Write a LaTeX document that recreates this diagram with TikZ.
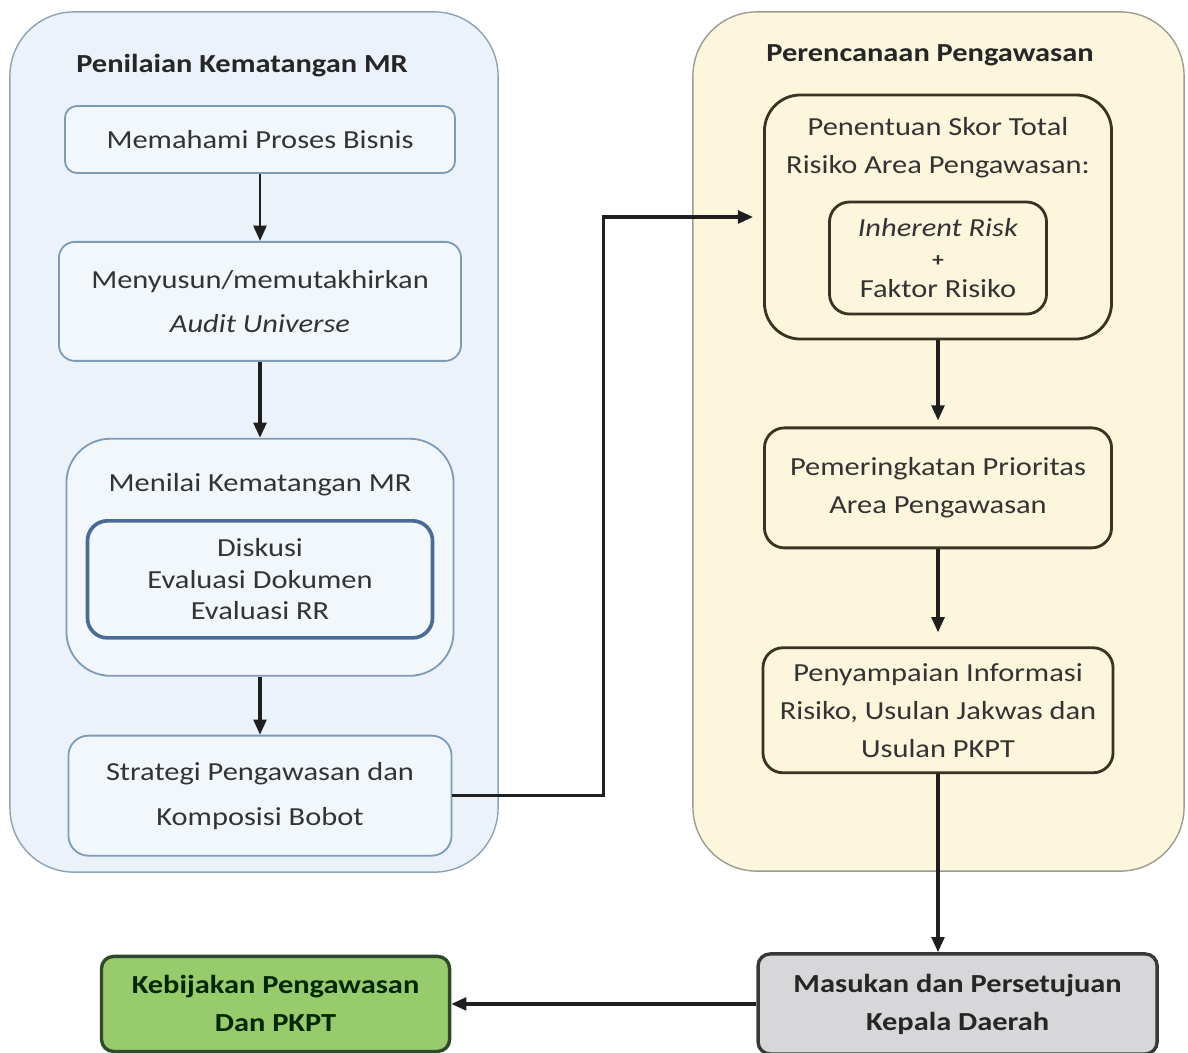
\documentclass[tikz,border=0pt]{standalone}
\usepackage{fontspec}
\setmainfont{Carlito}[FakeStretch=1.17]
\usetikzlibrary{arrows.meta,positioning,calc}

\definecolor{panelblue}{HTML}{EBF2FA}
\definecolor{panelblueline}{HTML}{8CA3B8}
\definecolor{boxblue}{HTML}{F2F7FC}
\definecolor{boxblueline}{HTML}{7E9BB8}
\definecolor{darkblueline}{HTML}{4A6B96}
\definecolor{panelcream}{HTML}{FBF6DC}
\definecolor{panelcreamline}{HTML}{9C9C90}
\definecolor{brownline}{HTML}{3A3222}
\definecolor{greybox}{HTML}{D7D7D9}
\definecolor{greenbox}{HTML}{98CB6B}
\definecolor{greenline}{HTML}{2E4A2A}
\definecolor{inktext}{HTML}{333333}

\begin{document}
\begin{tikzpicture}[
    x=0.025cm, y=-0.025cm,
    >={Triangle[length=3.8mm,width=3.2mm]},
    basebox/.style={
        draw,
        align=center,
        text=inktext,
        inner sep=2pt,
        font=\fontsize{18.5}{27}\selectfont
    },
    panelL/.style={
        basebox,
        rounded corners=16mm,
        line width=1pt,
        fill=panelblue,
        draw=panelblueline
    },
    panelR/.style={
        basebox,
        rounded corners=16mm,
        line width=1pt,
        fill=panelcream,
        draw=panelcreamline
    },
    paneltitle/.style={
        font=\fontsize{18.5}{22}\selectfont\bfseries,
        text=black!85
    },
    boxtext/.style={
        align=center,
        text=inktext,
        font=\fontsize{18.5}{27}\selectfont
    },
    bluebox/.style={
        basebox,
        rounded corners=4mm,
        line width=1.3pt,
        fill=boxblue,
        draw=boxblueline
    },
    diskusibox/.style={
        basebox,
        rounded corners=5mm,
        line width=2.6pt,
        fill=boxblue,
        draw=darkblueline,
        font=\fontsize{18.5}{22.5}\selectfont
    },
    brownbox/.style={
        basebox,
        rounded corners=5mm,
        line width=2pt,
        fill=panelcream,
        draw=brownline
    },
    endbox/.style={
        basebox,
        rounded corners=3mm,
        line width=2.4pt,
        font=\fontsize{18.5}{27}\selectfont\bfseries
    },
    arrow/.style={->, line width=2.3pt, draw=black!88}
]
\useasboundingbox (0,0) rectangle (1188,1052);

% --- PANELS ---
\node[panelL, minimum width=12.2cm, minimum height=21.5cm] (penilaian) at (254,442) {};
\node[paneltitle] (penilaianT) at (242,66) {Penilaian Kematangan MR};

\node[panelR, minimum width=12.275cm, minimum height=21.475cm] (perencanaan) at (938.5,441.5) {};
\node[paneltitle] (perencanaanT) at (930,55) {Perencanaan Pengawasan};

% --- LEFT COLUMN ---
\node[bluebox, rounded corners=3mm, minimum width=9.75cm, minimum height=1.675cm] (bisnis) at (260,139.5)
{Memahami Proses Bisnis};

\node[bluebox, minimum width=10.05cm, minimum height=2.975cm, font=\fontsize{18.5}{31}\selectfont,
      below=1.675cm of bisnis] (universe)
{Menyusun/memutakhirkan\\\textit{Audit Universe}};

\node[bluebox, rounded corners=11mm, minimum width=9.675cm, minimum height=5.925cm,
      below=1.9cm of universe] (menilai) {};
\node[boxtext] (menilaiT) at ([yshift=-11.75mm]menilai.north) {Menilai Kematangan MR};
\node[diskusibox, minimum width=8.625cm, minimum height=2.925cm,
      above=9.25mm of menilai.south] (diskusi)
{Diskusi\\Evaluasi Dokumen\\Evaluasi RR};

\node[bluebox, rounded corners=5mm, minimum width=9.575cm, minimum height=3cm,
      font=\fontsize{18.5}{32}\selectfont, below=1.45cm of menilai] (strategi)
{Strategi Pengawasan dan\\Komposisi Bobot};

% --- RIGHT COLUMN ---
\node[brownbox, rounded corners=9mm, minimum width=8.675cm, minimum height=6.1cm] (skor) at (938,217) {};
\node[boxtext] (skorT) at ([yshift=-13.5mm]skor.north)
{Penentuan Skor Total\\Risiko Area Pengawasan:};
\node[brownbox, minimum width=5.425cm, minimum height=2.8cm, font=\fontsize{18.5}{22}\selectfont,
      above=6.25mm of skor.south] (risk)
{\textit{Inherent Risk}\\{\fontsize{14}{14}\selectfont\bfseries +}\\Faktor Risiko};

\node[brownbox, minimum width=8.675cm, minimum height=3cm, below=2.15cm of skor] (peringkat)
{Pemeringkatan Prioritas\\Area Pengawasan};

\node[brownbox, minimum width=8.75cm, minimum height=3.125cm, below=2.425cm of peringkat] (penyampaian)
{Penyampaian Informasi\\Risiko, Usulan Jakwas dan\\Usulan PKPT};

% --- BOTTOM ROW ---
\node[endbox, fill=greybox, draw=black!78, text=black!85, minimum width=9.975cm, minimum height=2.5cm,
      below=4.45cm of penyampaian, xshift=4.9mm] (masukan)
{Masukan dan Persetujuan\\Kepala Daerah};

\node[endbox, fill=greenbox, draw=greenline, text=black!85!green, minimum width=8.7cm, minimum height=2.375cm,
      left=7.625cm of masukan] (kebijakan)
{Kebijakan Pengawasan\\Dan PKPT};

% --- CONNECTIONS ---
\draw[arrow, line width=1.8pt] (bisnis) -- (universe);
\draw[arrow] (universe) -- (menilai);
\draw[arrow] (menilai) -- (strategi);

\draw[arrow, shorten >=2.5mm] (strategi.east) -- ++(151,0) |- (skor.west);

\draw[arrow, shorten >=1.5mm] (skor) -- (peringkat);
\draw[arrow, shorten >=3.5mm] (peringkat) -- (penyampaian);
\draw[arrow] (penyampaian) -- (penyampaian |- masukan.north);
\draw[arrow] (masukan) -- (kebijakan);

\end{tikzpicture}
\end{document}
